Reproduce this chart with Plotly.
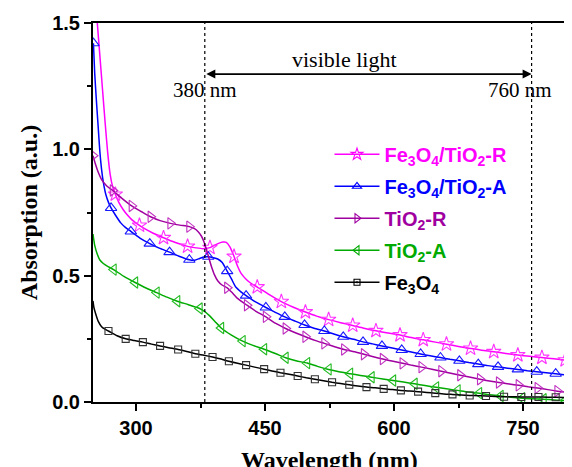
import plotly.graph_objects as go

# ---------------- data ----------------
series_names = ["Fe<sub>3</sub>O<sub>4</sub>/TiO<sub>2</sub>-R",
                "Fe<sub>3</sub>O<sub>4</sub>/TiO<sub>2</sub>-A",
                "TiO<sub>2</sub>-R",
                "TiO<sub>2</sub>-A",
                "Fe<sub>3</sub>O<sub>4</sub>"]

fr_wl = [250, 252, 255, 258, 261, 264, 267, 270, 273, 276, 280, 285, 290, 295, 304, 310, 320, 332,
         345, 360, 370, 378, 386, 391, 396, 401, 405, 409, 414, 418, 422, 428, 434, 441, 455, 469,
         483, 497, 510, 524, 538, 552, 565, 579, 593, 607, 620, 634, 648, 661, 675, 689, 702, 716,
         730, 744, 758, 772, 786, 799]
fr_ab = [1.78, 1.64, 1.50, 1.37, 1.24, 1.11, 0.99, 0.90, 0.85, 0.822, 0.79, 0.762, 0.74, 0.722, 0.699,
         0.686, 0.668, 0.650, 0.632, 0.616, 0.610, 0.607, 0.611, 0.620, 0.628, 0.633, 0.632, 0.615,
         0.576, 0.538, 0.510, 0.486, 0.469, 0.455, 0.425, 0.397, 0.375, 0.356, 0.340, 0.326, 0.314,
         0.303, 0.292, 0.282, 0.273, 0.265, 0.255, 0.246, 0.237, 0.229, 0.220, 0.212, 0.205, 0.199,
         0.192, 0.186, 0.181, 0.176, 0.171, 0.166]
fr_mk = [276, 304, 332, 360, 386, 414, 441, 469, 497, 524, 552, 579, 607, 634, 661, 689, 716, 744, 772, 799]

fa_wl = [250.5, 252, 254, 256, 258, 260, 262, 265, 268, 271, 276, 282, 288, 294, 300, 305, 316, 327,
         339, 350, 362, 368, 374, 379, 384, 390, 395, 400, 406, 411, 416, 422, 428, 439, 451, 462, 473,
         485, 496, 507, 519, 530, 541, 553, 564, 575, 586, 598, 609, 620, 631, 642, 654, 665, 676, 687,
         698, 709, 721, 732, 744, 755, 766, 777, 788, 800]
fa_ab = [1.42, 1.30, 1.19, 1.09, 0.99, 0.92, 0.87, 0.82, 0.79, 0.768, 0.74, 0.71, 0.69, 0.675, 0.66,
         0.648, 0.627, 0.609, 0.593, 0.577, 0.563, 0.561, 0.568, 0.574, 0.575, 0.571, 0.566, 0.553,
         0.518, 0.487, 0.455, 0.436, 0.421, 0.396, 0.374, 0.355, 0.337, 0.320, 0.305, 0.292, 0.281,
         0.269, 0.258, 0.248, 0.238, 0.230, 0.222, 0.214, 0.206, 0.198, 0.190, 0.183, 0.176, 0.169,
         0.163, 0.156, 0.150, 0.144, 0.139, 0.134, 0.129, 0.124, 0.120, 0.116, 0.112, 0.107]
fa_mk = [250.5, 271, 294, 316, 339, 362, 384, 406, 428, 451, 473, 496, 519, 541, 564, 586, 609, 631,
         654, 676, 698, 721, 744, 766, 788]

tr_wl = [250, 253, 256, 260, 266, 273, 284, 295, 306, 317, 328, 340, 351, 362, 368, 372, 376, 379, 382,
         385, 388, 391, 395, 400, 406, 412, 418, 429, 440, 451, 462, 474, 486, 497, 508, 519, 531, 542,
         554, 565, 576, 587, 599, 610, 621, 632, 644, 655, 666, 677, 689, 700, 711, 722, 734, 745, 756,
         767, 779, 790, 800]
tr_ab = [0.975, 0.94, 0.91, 0.88, 0.855, 0.837, 0.805, 0.776, 0.754, 0.733, 0.718, 0.707, 0.700, 0.694,
         0.686, 0.675, 0.657, 0.634, 0.602, 0.567, 0.533, 0.505, 0.480, 0.463, 0.452, 0.432, 0.410,
         0.383, 0.358, 0.337, 0.312, 0.291, 0.273, 0.258, 0.244, 0.232, 0.219, 0.208, 0.199, 0.189,
         0.179, 0.170, 0.161, 0.153, 0.145, 0.138, 0.130, 0.122, 0.114, 0.106, 0.098, 0.090, 0.083,
         0.077, 0.071, 0.066, 0.060, 0.055, 0.049, 0.043, 0.038]
tr_mk = [250, 273, 295, 317, 340, 362, 406, 429, 451, 474, 497, 519, 542, 565, 587, 610, 632, 655, 677,
         700, 722, 745, 767, 790]

ta_wl = [250, 252, 255, 258, 262, 267, 274, 286, 299, 311, 324, 336, 348, 361, 374, 380, 386, 392, 399,
         411, 424, 436, 449, 462, 474, 486, 499, 511, 524, 536, 549, 561, 574, 587, 599, 611, 624, 636,
         649, 661, 674, 686, 699, 711, 724, 736, 749, 761, 774, 786, 799]
ta_ab = [0.665, 0.62, 0.585, 0.562, 0.548, 0.537, 0.524, 0.497, 0.473, 0.452, 0.433, 0.415, 0.399,
         0.385, 0.370, 0.358, 0.340, 0.318, 0.293, 0.265, 0.241, 0.224, 0.209, 0.192, 0.175, 0.163,
         0.154, 0.141, 0.129, 0.120, 0.112, 0.105, 0.098, 0.091, 0.085, 0.079, 0.072, 0.065, 0.058,
         0.052, 0.046, 0.040, 0.035, 0.029, 0.024, 0.019, 0.015, 0.013, 0.011, 0.008, 0.006]
ta_mk = [274, 299, 324, 348, 374, 399, 424, 449, 474, 499, 524, 549, 574, 599, 624, 649, 674, 699, 724,
         749, 774, 799]

fe_wl = [250, 251, 253, 256, 260, 264, 268, 278, 288, 298, 308, 318, 328, 338, 349, 359, 369, 379, 389,
         399, 408, 418, 428, 438, 449, 458, 468, 478, 488, 498, 508, 518, 528, 538, 548, 558, 568, 578,
         588, 598, 608, 618, 628, 638, 648, 658, 668, 678, 688, 698, 707, 718, 728, 738, 748, 758, 768,
         778, 788, 800]
fe_ab = [0.40, 0.375, 0.35, 0.32, 0.298, 0.288, 0.281, 0.262, 0.250, 0.243, 0.237, 0.229, 0.222, 0.215,
         0.208, 0.200, 0.191, 0.185, 0.178, 0.170, 0.161, 0.153, 0.146, 0.138, 0.130, 0.123, 0.116,
         0.110, 0.103, 0.096, 0.090, 0.084, 0.078, 0.073, 0.068, 0.063, 0.059, 0.056, 0.052, 0.049,
         0.046, 0.044, 0.041, 0.038, 0.035, 0.032, 0.030, 0.028, 0.026, 0.025, 0.024, 0.022, 0.021,
         0.021, 0.020, 0.020, 0.020, 0.019, 0.019, 0.018]
fe_mk = [268, 288, 308, 328, 349, 369, 389, 408, 428, 449, 468, 488, 508, 528, 548, 568, 588, 608, 628,
         648, 668, 688, 707, 728, 748, 768, 788]

x_ticks = [300, 450, 600, 750]
y_ticks = [0.0, 0.5, 1.0, 1.5]
y_tick_text = ["0.0", "0.5", "1.0", "1.5"]
visible_bounds = [380, 760]

# ---------------- styling ----------------
colors = ["#FF00FF", "#0000FF", "#A000A0", "#00AA00", "#000000"]
mk_colors = ["#FF33FF", "#1A1AFF", "#C030C0", "#22BB22", "#333333"]
symbols = ["star-open", "triangle-up-open", "triangle-right-open", "triangle-left-open", "square-open"]
leg_symbols = ["star-open", "triangle-up-open", "triangle-right-open", "triangle-left-open", "square-open-dot"]
mk_sizes = [11, 10, 10, 10, 7]
leg_sizes = [9, 8, 8, 8, 6]

data = [(fr_wl, fr_ab, fr_mk), (fa_wl, fa_ab, fa_mk), (tr_wl, tr_ab, tr_mk),
        (ta_wl, ta_ab, ta_mk), (fe_wl, fe_ab, fe_mk)]

fig = go.Figure()
for i, (wl, ab, mk) in enumerate(data):
    g = "g%d" % i
    fig.add_trace(go.Scatter(x=wl, y=ab, mode="lines", line=dict(color=colors[i], width=1.5,
                             shape="spline", smoothing=0.6), showlegend=False, legendgroup=g,
                             hoverinfo="skip"))
    lookup = dict(zip(wl, ab))
    mx = [w for w in mk if w in lookup]
    my = [lookup[w] for w in mx]
    fig.add_trace(go.Scatter(x=mx, y=my, mode="markers", showlegend=False, legendgroup=g,
                             marker=dict(symbol=symbols[i], size=mk_sizes[i], color=mk_colors[i],
                                         line=dict(color=mk_colors[i], width=1.1))))
    name = '<span style="color:%s">%s</span>' % (colors[i], series_names[i])
    fig.add_trace(go.Scatter(x=[None], y=[None], mode="lines+markers", name=name, legendgroup=g,
                             line=dict(color=colors[i], width=1.5),
                             marker=dict(symbol=leg_symbols[i], size=leg_sizes[i], color=colors[i],
                                         line=dict(color=colors[i], width=1.1))))

# dotted boundaries of visible light
for b in visible_bounds:
    fig.add_shape(type="line", xref="x", yref="paper", x0=b, x1=b, y0=0, y1=1,
                  line=dict(color="black", width=1.2, dash="dot"))

serif = "Liberation Serif, Times New Roman, serif"
sans = "Liberation Sans, Arial, sans-serif"

# double arrow
fig.add_annotation(x=visible_bounds[1], y=1.298, ax=visible_bounds[0], ay=1.298, xref="x", yref="y",
                   axref="x", ayref="y", text="", showarrow=True, arrowhead=2, arrowside="end+start",
                   arrowwidth=1.8, arrowsize=1.0, arrowcolor="black")
fig.add_annotation(x=543, y=1.355, xref="x", yref="y", text="visible light", showarrow=False,
                   font=dict(family=serif, size=22, color="black"))
fig.add_annotation(x=visible_bounds[0], y=1.233, xref="x", yref="y", text="380 nm", showarrow=False,
                   font=dict(family=serif, size=21, color="black"))
fig.add_annotation(x=747, y=1.233, xref="x", yref="y", text="760 nm", showarrow=False,
                   font=dict(family=serif, size=21, color="black"))

# axis titles
fig.add_annotation(x=0.5, y=-0.153, xref="paper", yref="paper", text="<b>Wavelength (nm)</b>",
                   showarrow=False, yanchor="middle", font=dict(family=serif, size=24, color="black"))
fig.add_annotation(x=-0.136, y=0.5, xref="paper", yref="paper", text="<b>Absorption (a.u.)</b>",
                   showarrow=False, textangle=-90, xanchor="center",
                   font=dict(family=serif, size=24, color="black"))

axis_common = dict(showgrid=False, zeroline=False, showline=True, linecolor="black", linewidth=2,
                   mirror=True, ticks="outside", ticklen=7, tickwidth=2, tickcolor="black",
                   tickfont=dict(family=sans, size=20, color="black", weight="bold"))

fig.update_xaxes(range=[250, 800], tickvals=x_ticks, ticktext=[str(v) for v in x_ticks],
                 minor=dict(dtick=75, tick0=0, ticklen=4, tickwidth=2, tickcolor="black", ticks="outside"),
                 **axis_common)
fig.update_yaxes(range=[0, 1.5], tickvals=y_ticks, ticktext=y_tick_text,
                 minor=dict(dtick=0.25, tick0=0, ticklen=4, tickwidth=2, tickcolor="black", ticks="outside"),
                 **axis_common)

# the page body adds an 8 px offset, so the canvas is 8 px smaller and margins shifted accordingly
fig.update_layout(width=564, height=459, margin=dict(l=85, r=4, t=14, b=65),
                  paper_bgcolor="white", plot_bgcolor="white",
                  legend=dict(x=0.5, y=0.705, xanchor="left", yanchor="top", bgcolor="rgba(0,0,0,0)",
                              font=dict(family=sans, size=20, weight="bold"), traceorder="grouped",
                              tracegroupgap=3, itemwidth=45))

fig.write_html("out.html")
